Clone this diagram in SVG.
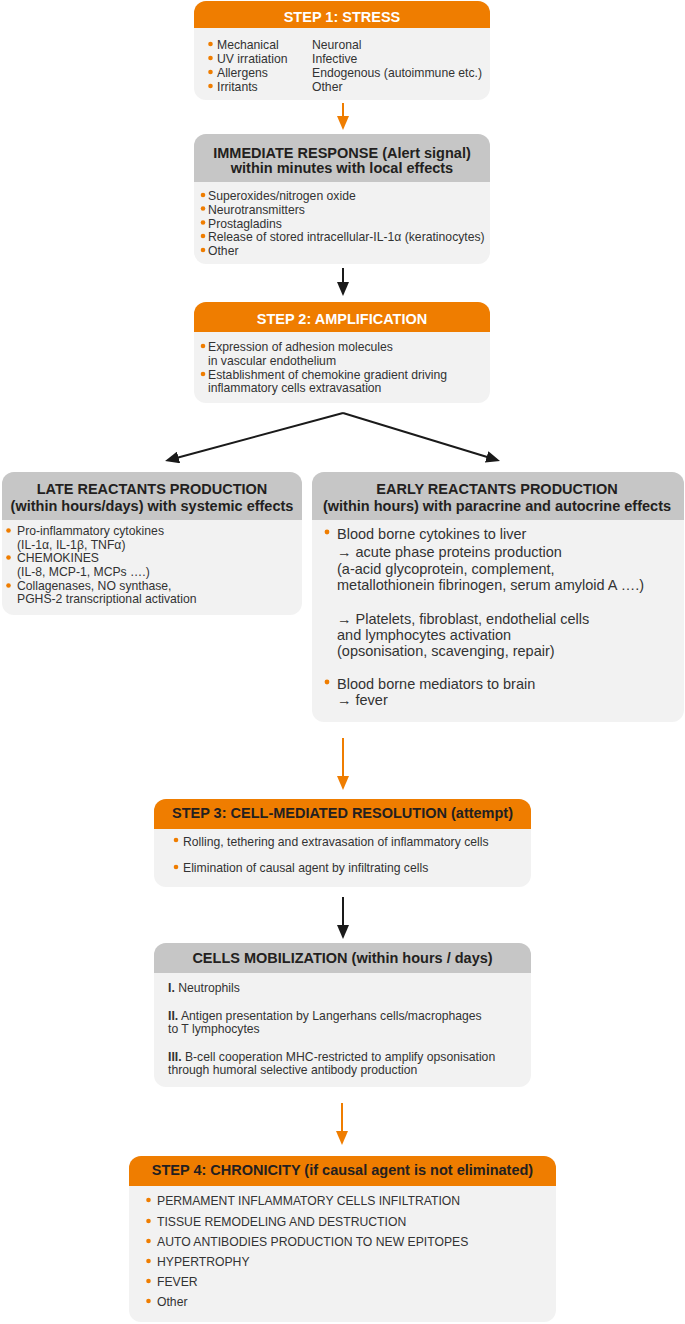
<svg xmlns="http://www.w3.org/2000/svg" width="685" height="1324" viewBox="0 0 685 1324">
<defs>
<style>
.body{fill:#F2F2F2}
.ho{fill:#EF7D00}
.hg{fill:#C6C6C6}
.tw{font-family:"Liberation Sans",Arial,sans-serif;font-size:14.5px;font-weight:bold;fill:#FFFFFF;text-anchor:middle}
.td{font-family:"Liberation Sans",Arial,sans-serif;font-size:14.5px;font-weight:bold;fill:#231F20;text-anchor:middle}
.t{font-family:"Liberation Sans",Arial,sans-serif;font-size:12.2px;fill:#333333}
.tl{font-family:"Liberation Sans",Arial,sans-serif;font-size:14.5px;fill:#333333}
.b{fill:#EF7D00}
.co{stroke:#EF7D00;stroke-width:2;fill:none}
.ck{stroke:#1A1A1A;stroke-width:2;fill:none}
</style>
<marker id="ao" markerWidth="14" markerHeight="12" refX="10" refY="6" orient="auto" markerUnits="userSpaceOnUse"><path d="M0,0 L14,6 L0,12 Z" fill="#EF7D00"/></marker>
<marker id="ak" markerWidth="14" markerHeight="12" refX="10" refY="6" orient="auto" markerUnits="userSpaceOnUse"><path d="M0,0 L14,6 L0,12 Z" fill="#1A1A1A"/></marker>
</defs>
<rect width="685" height="1324" fill="#FFFFFF"/>

<g id="connectors">
<line class="co" x1="343" y1="103" x2="343" y2="126" marker-end="url(#ao)"/>
<line class="ck" x1="343" y1="268" x2="343" y2="292" marker-end="url(#ak)"/>
<line class="ck" x1="343" y1="413" x2="168.9" y2="460" marker-end="url(#ak)"/>
<line class="ck" x1="343" y1="413" x2="496.2" y2="459.8" marker-end="url(#ak)"/>
<line class="co" x1="343" y1="738" x2="343" y2="786" marker-end="url(#ao)"/>
<line class="ck" x1="343" y1="897" x2="343" y2="935" marker-end="url(#ak)"/>
<line class="co" x1="342" y1="1103" x2="342" y2="1141" marker-end="url(#ao)"/>
</g>

<g id="step1">
<rect class="body" x="194" y="1" width="296" height="99" rx="12"/>
<path class="ho" d="M194,28 V13 A12,12 0 0 1 206,1 H478 A12,12 0 0 1 490,13 V28 Z"/>
<text class="tw" x="342" y="22">STEP 1: STRESS</text>
<circle class="b" cx="210.5" cy="44" r="2.3"/>
<circle class="b" cx="210.5" cy="58" r="2.3"/>
<circle class="b" cx="210.5" cy="72" r="2.3"/>
<circle class="b" cx="210.5" cy="86" r="2.3"/>
<text class="t" x="217" y="49.3">Mechanical</text>
<text class="t" x="217" y="63.3">UV irratiation</text>
<text class="t" x="217" y="77">Allergens</text>
<text class="t" x="217" y="91">Irritants</text>
<text class="t" x="312" y="49.3">Neuronal</text>
<text class="t" x="312" y="63.3">Infective</text>
<text class="t" x="312" y="77">Endogenous (autoimmune etc.)</text>
<text class="t" x="312" y="91">Other</text>
</g>

<g id="immediate">
<rect class="body" x="194" y="134" width="296" height="130" rx="12"/>
<path class="hg" d="M194,182 V146 A12,12 0 0 1 206,134 H478 A12,12 0 0 1 490,146 V182 Z"/>
<text class="td" x="342" y="158">IMMEDIATE RESPONSE (Alert signal)</text>
<text class="td" x="342" y="173">within minutes with local effects</text>
<circle class="b" cx="203" cy="195" r="2.3"/>
<circle class="b" cx="203" cy="208.5" r="2.3"/>
<circle class="b" cx="203" cy="222.5" r="2.3"/>
<circle class="b" cx="203" cy="236" r="2.3"/>
<circle class="b" cx="203" cy="250" r="2.3"/>
<text class="t" x="208" y="200">Superoxides/nitrogen oxide</text>
<text class="t" x="208" y="213.5">Neurotransmitters</text>
<text class="t" x="208" y="227.5">Prostagladins</text>
<text class="t" x="208" y="241">Release of stored intracellular-IL-1α (keratinocytes)</text>
<text class="t" x="208" y="255">Other</text>
</g>

<g id="step2">
<rect class="body" x="194" y="302" width="296" height="101" rx="12"/>
<path class="ho" d="M194,332 V314 A12,12 0 0 1 206,302 H478 A12,12 0 0 1 490,314 V332 Z"/>
<text class="tw" x="342" y="324">STEP 2: AMPLIFICATION</text>
<circle class="b" cx="203" cy="346" r="2.3"/>
<circle class="b" cx="203" cy="374" r="2.3"/>
<text class="t" x="208" y="351">Expression of adhesion molecules</text>
<text class="t" x="208" y="365">in vascular endothelium</text>
<text class="t" x="208" y="379">Establishment of chemokine gradient driving</text>
<text class="t" x="208" y="392">inflammatory cells extravasation</text>
</g>

<g id="late">
<rect class="body" x="2" y="472" width="300" height="143" rx="12"/>
<path class="hg" d="M2,520 V484 A12,12 0 0 1 14,472 H290 A12,12 0 0 1 302,484 V520 Z"/>
<text class="td" x="152" y="494">LATE REACTANTS PRODUCTION</text>
<text class="td" x="152" y="511">(within hours/days) with systemic effects</text>
<circle class="b" cx="8.5" cy="530.5" r="2.3"/>
<circle class="b" cx="8.5" cy="557.5" r="2.3"/>
<circle class="b" cx="8.5" cy="585.5" r="2.3"/>
<text class="t" x="17" y="535">Pro-inflammatory cytokines</text>
<text class="t" x="17" y="549">(IL-1α, IL-1β, TNFα)</text>
<text class="t" x="17" y="562">CHEMOKINES</text>
<text class="t" x="17" y="576">(IL-8, MCP-1, MCPs ….)</text>
<text class="t" x="17" y="590">Collagenases, NO synthase,</text>
<text class="t" x="17" y="603">PGHS-2 transcriptional activation</text>
</g>

<g id="early">
<rect class="body" x="312" y="472" width="372" height="250" rx="12"/>
<path class="hg" d="M312,520 V484 A12,12 0 0 1 324,472 H672 A12,12 0 0 1 684,484 V520 Z"/>
<text class="td" x="497" y="494">EARLY REACTANTS PRODUCTION</text>
<text class="td" x="497" y="511">(within hours) with paracrine and autocrine effects</text>
<circle class="b" cx="327" cy="532" r="2.4"/>
<circle class="b" cx="327" cy="682" r="2.4"/>
<text class="tl" x="337" y="538.5">Blood borne cytokines to liver</text>
<text class="tl" x="337" y="557">→ acute phase proteins production</text>
<text class="tl" x="337" y="573.5">(a-acid glycoprotein, complement,</text>
<text class="tl" x="337" y="590">metallothionein fibrinogen, serum amyloid A ….)</text>
<text class="tl" x="337" y="623.5">→ Platelets, fibroblast, endothelial cells</text>
<text class="tl" x="337" y="640">and lymphocytes activation</text>
<text class="tl" x="337" y="655.5">(opsonisation, scavenging, repair)</text>
<text class="tl" x="337" y="688.5">Blood borne mediators to brain</text>
<text class="tl" x="337" y="705">→ fever</text>
</g>

<g id="step3">
<rect class="body" x="154" y="799" width="377" height="88" rx="12"/>
<path class="ho" d="M154,829 V811 A12,12 0 0 1 166,799 H519 A12,12 0 0 1 531,811 V829 Z"/>
<text class="td" x="342.5" y="818">STEP 3: CELL-MEDIATED RESOLUTION (attempt)</text>
<circle class="b" cx="176" cy="840" r="2.3"/>
<circle class="b" cx="176" cy="867" r="2.3"/>
<text class="t" x="183" y="846">Rolling, tethering and extravasation of inflammatory cells</text>
<text class="t" x="183" y="872">Elimination of causal agent by infiltrating cells</text>
</g>

<g id="mobilization">
<rect class="body" x="154" y="943" width="377" height="144" rx="12"/>
<path class="hg" d="M154,973 V955 A12,12 0 0 1 166,943 H519 A12,12 0 0 1 531,955 V973 Z"/>
<text class="td" x="342.5" y="963">CELLS MOBILIZATION (within hours / days)</text>
<text class="t" x="168" y="992"><tspan font-weight="bold">I.</tspan> Neutrophils</text>
<text class="t" x="168" y="1020"><tspan font-weight="bold">II.</tspan> Antigen presentation by Langerhans cells/macrophages</text>
<text class="t" x="168" y="1033">to T lymphocytes</text>
<text class="t" x="168" y="1061"><tspan font-weight="bold">III.</tspan> B-cell cooperation MHC-restricted to amplify opsonisation</text>
<text class="t" x="168" y="1074">through humoral selective antibody production</text>
</g>

<g id="step4">
<rect class="body" x="129" y="1156" width="427" height="166" rx="12"/>
<path class="ho" d="M129,1186 V1168 A12,12 0 0 1 141,1156 H544 A12,12 0 0 1 556,1168 V1186 Z"/>
<text class="td" x="342.5" y="1175">STEP 4: CHRONICITY (if causal agent is not eliminated)</text>
<circle class="b" cx="148.5" cy="1200" r="2.3"/>
<circle class="b" cx="148.5" cy="1221" r="2.3"/>
<circle class="b" cx="148.5" cy="1241" r="2.3"/>
<circle class="b" cx="148.5" cy="1261" r="2.3"/>
<circle class="b" cx="148.5" cy="1281" r="2.3"/>
<circle class="b" cx="148.5" cy="1301" r="2.3"/>
<text class="t" x="157" y="1205">PERMAMENT INFLAMMATORY CELLS INFILTRATION</text>
<text class="t" x="157" y="1226">TISSUE REMODELING AND DESTRUCTION</text>
<text class="t" x="157" y="1246">AUTO ANTIBODIES PRODUCTION TO NEW EPITOPES</text>
<text class="t" x="157" y="1266">HYPERTROPHY</text>
<text class="t" x="157" y="1286">FEVER</text>
<text class="t" x="157" y="1306">Other</text>
</g>
</svg>
